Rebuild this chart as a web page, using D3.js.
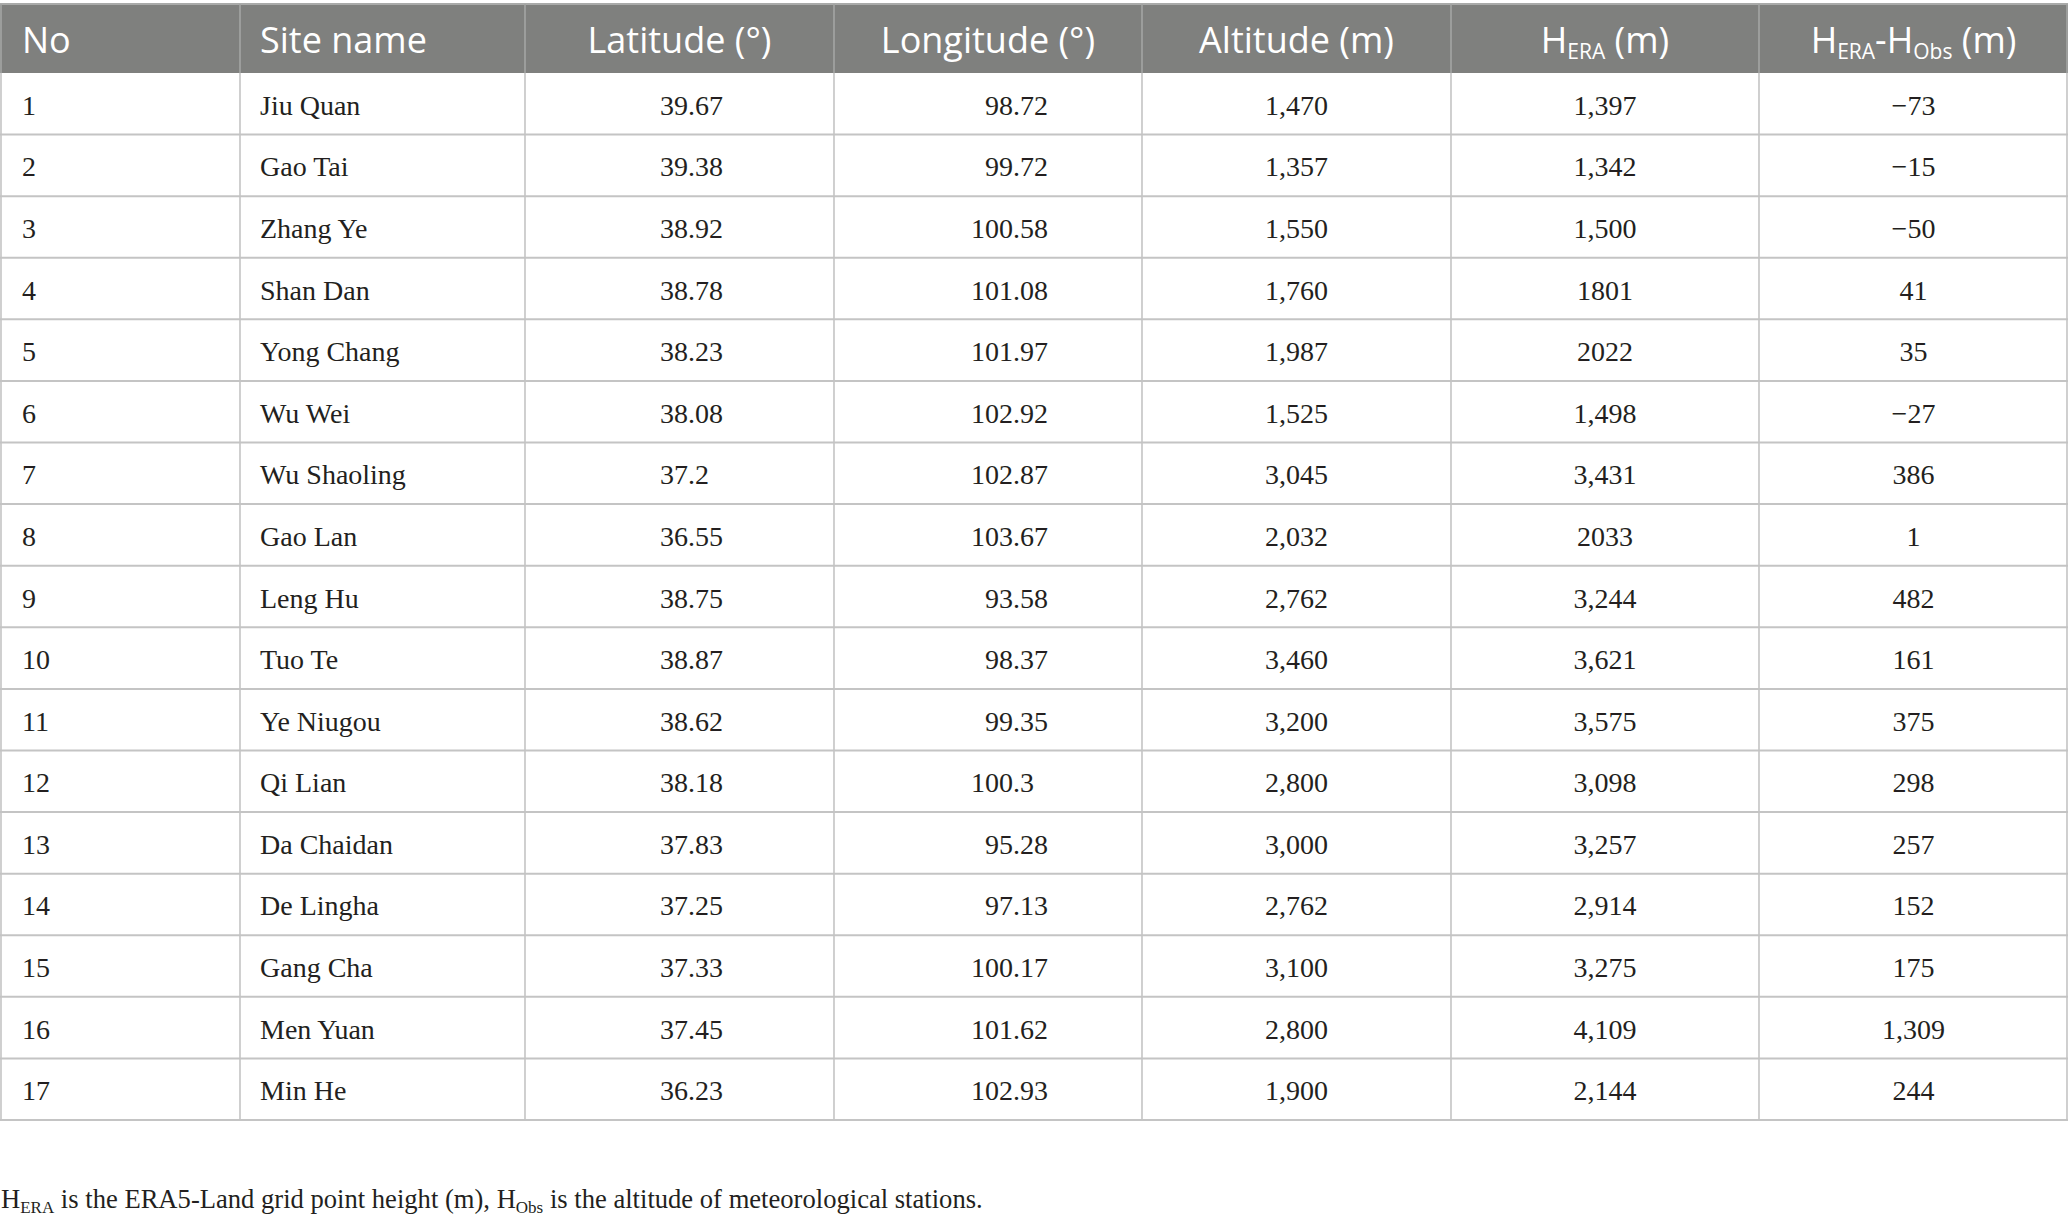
<!DOCTYPE html>
<html><head><meta charset="utf-8">
<script src="https://cdn.jsdelivr.net/npm/d3@7"></script>
<style>html,body{margin:0;padding:0;background:#fff;}svg{display:block;}</style>
</head><body>
<svg id="chart" width="2068" height="1221"></svg>
<script>
const siteNo = ["1","2","3","4","5","6","7","8","9","10","11","12","13","14","15","16","17"];
const siteNames = ["Jiu Quan","Gao Tai","Zhang Ye","Shan Dan","Yong Chang","Wu Wei","Wu Shaoling","Gao Lan","Leng Hu","Tuo Te","Ye Niugou","Qi Lian","Da Chaidan","De Lingha","Gang Cha","Men Yuan","Min He"];
const latitude = ["39.67","39.38","38.92","38.78","38.23","38.08","37.2","36.55","38.75","38.87","38.62","38.18","37.83","37.25","37.33","37.45","36.23"];
const longitude = ["98.72","99.72","100.58","101.08","101.97","102.92","102.87","103.67","93.58","98.37","99.35","100.3","95.28","97.13","100.17","101.62","102.93"];
const altitude = ["1,470","1,357","1,550","1,760","1,987","1,525","3,045","2,032","2,762","3,460","3,200","2,800","3,000","2,762","3,100","2,800","1,900"];
const hEra = ["1,397","1,342","1,500","1801","2022","1,498","3,431","2033","3,244","3,621","3,575","3,098","3,257","2,914","3,275","4,109","2,144"];
const hDiff = ["\u221273","\u221215","\u221250","41","35","\u221227","386","1","482","161","375","298","257","152","175","1,309","244"];
const columnKeys = ["no","site","lat","lon","alt","hera","diff"];
const headerParts = [
  [["No",""]],
  [["Site name",""]],
  [["Latitude (\u00b0)",""]],
  [["Longitude (\u00b0)",""]],
  [["Altitude (m)",""]],
  [["H","ERA"],[" (m)",""]],
  [["H","ERA"],["-H","Obs"],[" (m)",""]]
];
const footParts = [["H","ERA"],[" is the ERA5-Land grid point height (m), H","Obs"],[" is the altitude of meteorological stations.",""]];

const W = 2068;
const svg = d3.select("#chart");
const colEdges = [0, 240, 525, 834, 1142, 1451, 1759, 2068];
const headerTop = 4, headerBottom = 73, tableBottom = 1120;

const x = d3.scaleOrdinal().domain(columnKeys).range(colEdges.slice(0, 7));
const colW = d3.scaleOrdinal().domain(columnKeys).range(colEdges.slice(1).map((e, i) => e - colEdges[i]));
const y = d3.scaleBand().domain(d3.range(siteNo.length)).range([headerBottom, tableBottom]);

const headerFont = "'Open Sans', sans-serif";
const bodyFont = "'Liberation Serif', 'Times New Roman', serif";
const textColor = "#231f20";

// header background
svg.append("rect").attr("x", 0).attr("y", headerTop).attr("width", W).attr("height", headerBottom - headerTop).attr("fill", "#7f807e");
svg.append("line").attr("x1", 0).attr("x2", W).attr("y1", headerTop).attr("y2", headerTop).attr("stroke", "#a9aaa9").attr("stroke-width", 2);

// row lines
const rowLines = d3.range(1, siteNo.length).map(i => y(i)).concat([tableBottom]);
svg.append("g").selectAll("line").data(rowLines).join("line")
  .attr("x1", 0).attr("x2", W).attr("y1", d => d).attr("y2", d => d)
  .attr("stroke", "#c4c4c4").attr("stroke-width", 2);

// vertical lines
const vEdges = colEdges.map((e, i) => i === 0 ? 1 : (i === colEdges.length - 1 ? W - 1 : e));
svg.append("g").selectAll("line").data(vEdges).join("line")
  .attr("x1", d => d).attr("x2", d => d).attr("y1", headerBottom).attr("y2", tableBottom)
  .attr("stroke", "#c4c4c4").attr("stroke-width", 1.6);
svg.append("g").selectAll("line").data(vEdges).join("line")
  .attr("x1", d => d).attr("x2", d => d).attr("y1", headerTop).attr("y2", headerBottom)
  .attr("stroke", "#a4a5a4").attr("stroke-width", 1.6);

function richText(t, parts, subSize, shift) {
  let pending = 0;
  parts.forEach(([main, sub]) => {
    const m = t.append("tspan").text(main);
    if (pending) { m.attr("dy", pending); pending = 0; }
    if (sub) {
      t.append("tspan").attr("font-size", subSize).attr("dy", shift).text(sub);
      pending = -shift;
    }
  });
}

// header text
const headerBaseline = 53;
headerParts.forEach((parts, ci) => {
  const key = columnKeys[ci];
  const leftAligned = ci < 2;
  const t = svg.append("text")
    .attr("x", leftAligned ? x(key) + (ci === 0 ? 22 : 20) : x(key) + colW(key) / 2)
    .attr("y", headerBaseline)
    .attr("text-anchor", leftAligned ? "start" : "middle")
    .attr("font-family", headerFont).attr("font-size", 36).attr("fill", "#fff");
  richText(t, parts, 21, 6);
});

// body cells
const bodyFs = 28;
const rowsG = svg.append("g").attr("font-family", bodyFont).attr("font-size", bodyFs).attr("fill", textColor);
const baseline = i => y(i) + y.bandwidth() / 2 + 11;

function leftCol(arr, key, pad) {
  rowsG.append("g").selectAll("text").data(arr).join("text")
    .attr("x", x(key) + pad).attr("y", (d, i) => baseline(i)).text(d => d);
}
function centerCol(arr, key) {
  rowsG.append("g").selectAll("text").data(arr).join("text")
    .attr("x", x(key) + colW(key) / 2).attr("y", (d, i) => baseline(i))
    .attr("text-anchor", "middle").text(d => d);
}
function decimalCol(arr, decX) {
  const g = rowsG.append("g");
  g.selectAll("text.int").data(arr).join("text").attr("class", "int")
    .attr("x", decX).attr("y", (d, i) => baseline(i)).attr("text-anchor", "end")
    .text(d => d.split(".")[0]);
  g.selectAll("text.frac").data(arr.filter(d => d.includes("."))).join("text").attr("class", "frac")
    .attr("x", decX).attr("y", d => baseline(arr.indexOf(d))).attr("text-anchor", "start")
    .text(d => "." + d.split(".")[1]);
}
leftCol(siteNo, "no", 22);
leftCol(siteNames, "site", 20);
decimalCol(latitude, x("lat") + 163);
decimalCol(longitude, x("lon") + 179);
centerCol(altitude, "alt");
centerCol(hEra, "hera");
centerCol(hDiff, "diff");

// footnote
const ft = svg.append("text").attr("x", 1).attr("y", 1208)
  .attr("font-family", bodyFont).attr("font-size", 26.6).attr("fill", textColor);
richText(ft, footParts, 17, 5);
</script>
</body></html>
